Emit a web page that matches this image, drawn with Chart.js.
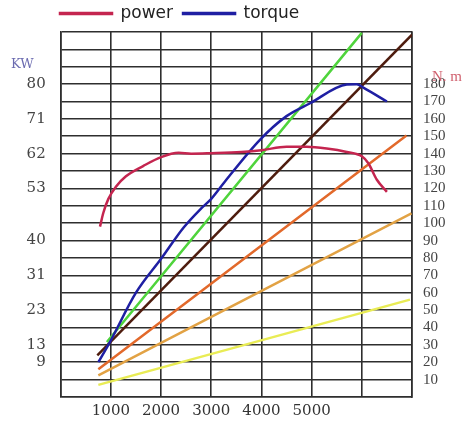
<!DOCTYPE html>
<html>
<head>
<meta charset="utf-8">
<script src="https://cdn.jsdelivr.net/npm/chart.js@4.4.1/dist/chart.umd.min.js"></script>
<style>
  html, body { margin: 0; padding: 0; background: #fff; }
  #wrap { width: 465px; height: 421px; }
</style>
</head>
<body>
<div id="wrap"><canvas id="engineChart" width="465" height="421"></canvas></div>
<script>
// rpm labels shown under the grid
const rpmLabels = [1000, 2000, 3000, 4000, 5000];

// left axis (KW) labels and the grid value they sit on
const kwLabels = ['80', '71', '62', '53', '40', '31', '23', '13', '9'];
const kwTickPos = [180, 160, 140, 120, 90, 70, 50, 30, 20];

// right axis (N.m) labels
const nmLabels = [10, 20, 30, 40, 50, 60, 70, 80, 90, 100, 110, 120, 130, 140, 150, 160, 170, 180];

// power curve (read on the grid scale)
const powerRpm = [783, 850, 950, 1100, 1300, 1650, 2000, 2350, 2600, 3000, 3600, 4000, 4500, 4900, 5300, 5700, 6000, 6130, 6300, 6500];
const powerVal = [98, 106, 114, 121, 127, 133, 138, 140.5, 140, 140.3, 141, 142, 144, 144, 143, 141, 138.5, 134.5, 125, 118];

// torque curve
const torqueRpm = [750, 980, 1500, 2000, 2450, 2800, 3000, 3300, 3970, 4500, 4970, 5700, 5900, 6030, 6500];
const torqueVal = [20, 31.6, 60, 79.5, 97.5, 108.5, 114, 125, 148, 161.6, 169, 179.8, 180, 178, 170];

// straight gear lines: [start rpm, end rpm] and [start value, end value]
const greenRpm = [920, 6000];   const greenVal = [31.6, 209.5];
const brownRpm = [730, 7000];   const brownVal = [24, 208.5];
const orangeRpm = [750, 6890];  const orangeVal = [16, 150.5];
const amberRpm = [750, 6990];   const amberVal = [12.4, 105.7];
const yellowRpm = [750, 6960];  const yellowVal = [7, 56];

function pts(xs, ys) {
    return xs.map((x, i) => ({ x: x, y: ys[i] }));
}

function lineSet(label, xs, ys, color, order) {
    return {
        label: label,
        data: pts(xs, ys),
        borderColor: color,
        backgroundColor: color,
        borderWidth: 2.5,
        pointRadius: 0,
        cubicInterpolationMode: 'monotone',
        order: order
    };
}

const gridColor = '#2e2e2e';

// axis captions "KW" and "N. m", and legend nudged right
const captions = {
    id: 'captions',
    afterLayout(chart) {
        chart.legend.left = 50;
    },
    afterDraw(chart) {
        const ctx = chart.ctx;
        ctx.save();
        ctx.textBaseline = 'middle';
        ctx.textAlign = 'left';
        ctx.font = '13px "DejaVu Serif"';
        ctx.fillStyle = '#6b6bb0';
        ctx.fillText('KW', 11, 65);
        ctx.font = '15px "Liberation Serif"';
        ctx.fillStyle = '#d0606e';
        ctx.fillText('N. m', 432, 77);
        ctx.restore();
    }
};

new Chart(document.getElementById('engineChart'), {
    type: 'line',
    data: {
        datasets: [
            lineSet('power', powerRpm, powerVal, '#c4254f', 0),
            lineSet('torque', torqueRpm, torqueVal, '#1f1fa3', 0),
            lineSet('g1', greenRpm, greenVal, '#4fd43c', 1),
            lineSet('g2', brownRpm, brownVal, '#4e1c0e', 1),
            lineSet('g3', orangeRpm, orangeVal, '#e2692b', 1),
            lineSet('g4', amberRpm, amberVal, '#e2a244', 1),
            lineSet('g5', yellowRpm, yellowVal, '#e9ec55', 1)
        ]
    },
    options: {
        responsive: false,
        animation: false,
        layout: { padding: { left: 0, right: 0, top: -5, bottom: 0 } },
        plugins: {
            tooltip: { enabled: false },
            legend: {
                align: 'start',
                labels: {
                    boxWidth: 52,
                    boxHeight: 1,
                    padding: 10,
                    color: '#222',
                    font: { family: '"DejaVu Sans"', size: 17 },
                    filter: item => item.datasetIndex < 2
                }
            }
        },
        scales: {
            x: {
                type: 'linear',
                min: 0,
                max: 7000,
                afterFit: axis => { axis.height = 22.7; },
                grid: { color: gridColor, lineWidth: 1.6, drawTicks: false },
                border: { color: gridColor, width: 1.6 },
                ticks: {
                    stepSize: 1000,
                    autoSkip: false,
                    maxRotation: 0,
                    padding: 5,
                    color: '#333',
                    font: { family: '"DejaVu Serif"', size: 15 },
                    callback: v => rpmLabels.includes(v) ? String(v) : ''
                }
            },
            y: {
                type: 'linear',
                position: 'left',
                min: 0,
                max: 210,
                afterFit: axis => { axis.width = 60.7; },
                grid: { color: gridColor, lineWidth: 1.6, drawTicks: false },
                border: { color: gridColor, width: 1.6 },
                ticks: {
                    stepSize: 10,
                    autoSkip: false,
                    padding: 15,
                    color: '#444',
                    font: { family: '"DejaVu Serif"', size: 15 },
                    callback: v => {
                        const i = kwTickPos.indexOf(v);
                        return i >= 0 ? kwLabels[i] : '';
                    }
                }
            },
            y2: {
                type: 'linear',
                position: 'right',
                min: 0,
                max: 210,
                afterFit: axis => { axis.width = 53; },
                grid: { display: false, drawTicks: false },
                border: { color: gridColor, width: 1.6 },
                ticks: {
                    stepSize: 10,
                    autoSkip: false,
                    padding: 11,
                    color: '#444',
                    font: { family: '"Liberation Serif"', size: 15 },
                    callback: v => nmLabels.includes(v) ? String(v) : ''
                }
            }
        }
    },
    plugins: [captions]
});
</script>
</body>
</html>
